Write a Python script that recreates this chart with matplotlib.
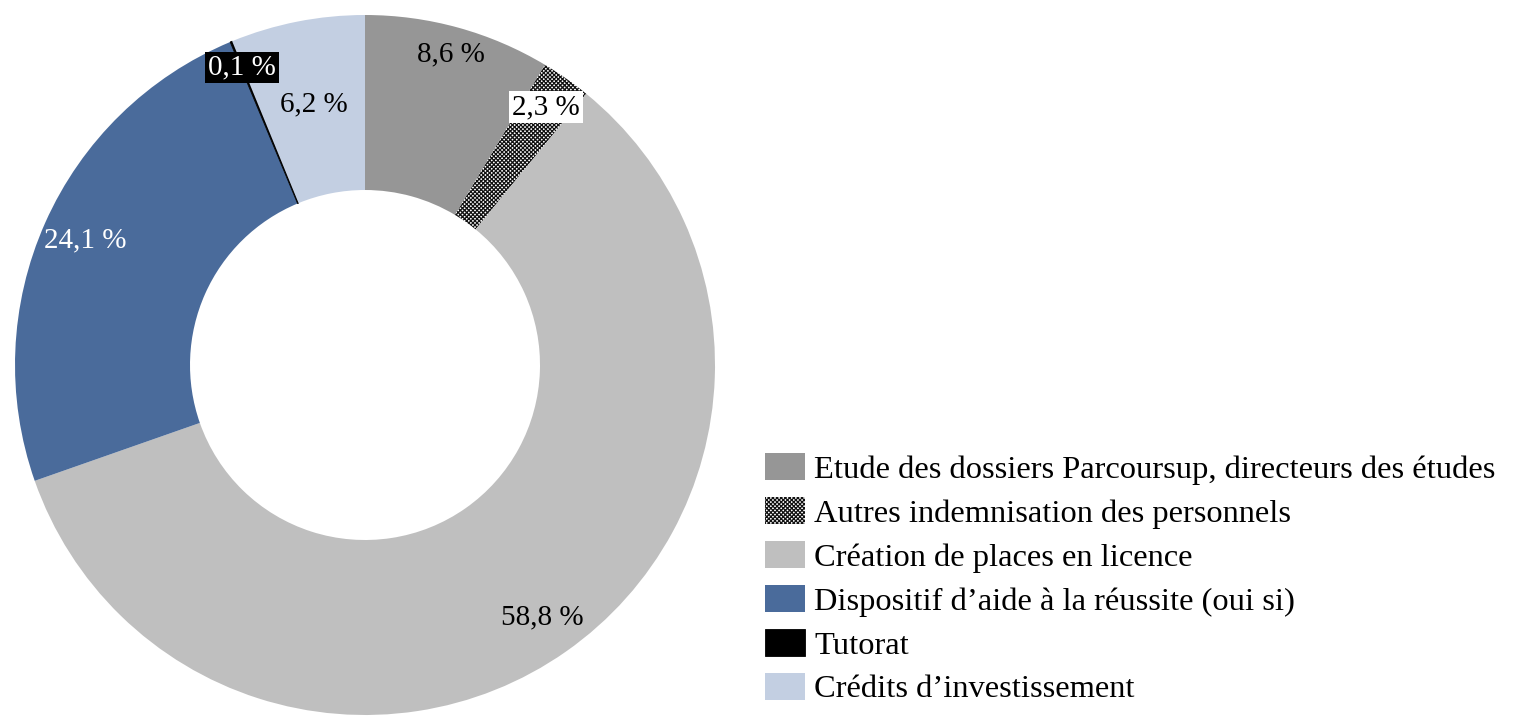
import matplotlib
matplotlib.use("Agg")
import matplotlib.pyplot as plt
import numpy as np

categories = [
    "Etude des dossiers Parcoursup, directeurs des études",
    "Autres indemnisation des personnels",
    "Création de places en licence",
    "Dispositif d\u2019aide à la réussite (oui si)",
    "Tutorat",
    "Crédits d\u2019investissement",
]
values = [8.6, 2.3, 58.8, 24.1, 0.1, 6.2]
labels = ["8,6 %", "2,3 %", "58,8 %", "24,1 %", "0,1 %", "6,2 %"]

colors = ["#969696", "#ffffff", "#bfbfbf", "#4a6b9b", "#000000", "#c3cfe2"]
hatches = [None, "xxxxxxxx", None, None, None, None]
label_r = [0.92, 0.90, 0.88, 0.875, 0.92, 0.76]
text_colors = ["black", "black", "black", "white", "white", "black"]
boxes = [None, dict(facecolor="white", edgecolor="none", pad=2),
         None, None, dict(facecolor="black", edgecolor="none", pad=2), None]

plt.rcParams["font.family"] = ["Liberation Serif", "DejaVu Serif"]
plt.rcParams["hatch.linewidth"] = 0.9

W, H = 1515, 728
fig = plt.figure(figsize=(W / 100, H / 100), dpi=100)
ax = fig.add_axes([15 / W, (H - 715) / H, 700 / W, 700 / H])

wedges, _ = ax.pie(values, colors=colors, startangle=90, counterclock=False,
                   radius=1.0, wedgeprops=dict(width=0.5, linewidth=0))
for w, h in zip(wedges, hatches):
    if h:
        w.set_hatch(h)
        w.set_edgecolor("#111111")
        w.set_linewidth(0)
wedges[4].set_edgecolor("black")
wedges[4].set_linewidth(0.6)

for w, lab, r, tc, bx in zip(wedges, labels, label_r, text_colors, boxes):
    ang = np.deg2rad((w.theta1 + w.theta2) / 2)
    ax.text(r * np.cos(ang), r * np.sin(ang), lab, ha="center", va="center",
            fontsize=21, color=tc, bbox=bx)

ax.set_xlim(-1, 1)
ax.set_ylim(-1, 1)
ax.set_aspect("equal")
ax.axis("off")

leg = fig.legend(wedges, categories, loc="upper left",
                 bbox_to_anchor=(765 / W, (H - 453) / H), frameon=False,
                 fontsize=23.4, handlelength=1.22, handleheight=0.92,
                 handletextpad=0.3, labelspacing=0.37, borderaxespad=0,
                 borderpad=0)

fig.savefig("out.png", dpi=100)
